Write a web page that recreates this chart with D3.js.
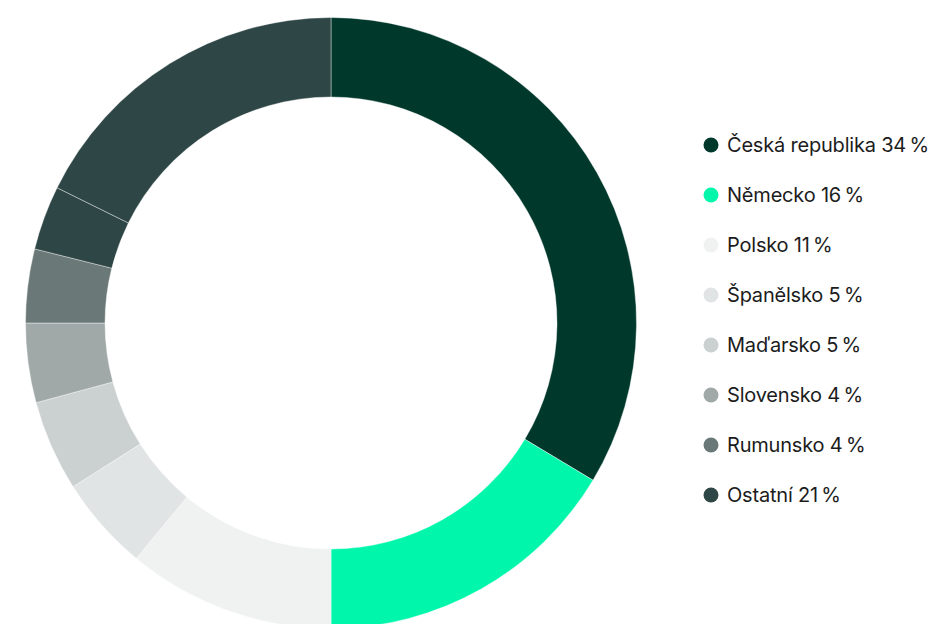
<!DOCTYPE html>
<html>
<head>
<meta charset="utf-8">
<script src="https://cdn.jsdelivr.net/npm/d3@7"></script>
<style>
  body { margin: 0; background: #fff; }
  svg { display: block; }
  .legend text { font-family: Inter, "Noto Sans", sans-serif; font-size: 20px; fill: #1c1c1c; }
</style>
</head>
<body>
<svg id="chart" width="935" height="624"></svg>
<script>
const countries = ["Česká republika", "Německo", "Polsko", "Španělsko", "Maďarsko", "Slovensko", "Rumunsko", "Ostatní"];
const shares = [33.6, 16.4, 11.0, 5.0, 4.8, 4.2, 3.9, 21.1];
const colors = ["#00382b", "#00f7ab", "#f0f2f2", "#e1e4e4", "#cbd0d0", "#a0a8a8", "#6a7877", "#2e4645"];
// "Ostatní" is drawn as two pieces in the original, same colour
const otherParts = [3.4, 17.7];

const svg = d3.select("#chart");
const cx = 331, cy = 323;
const outerR = 305.5, innerR = 226;

// slices: every country, with Ostatní split into its parts
const slices = [];
countries.forEach((c, i) => {
    if (c === "Ostatní") {
        otherParts.forEach(v => slices.push({name: c, value: v, color: colors[i]}));
    } else {
        slices.push({name: c, value: shares[i], color: colors[i]});
    }
});

const pie = d3.pie()
    .value(d => d.value)
    .sort(null);

const arc = d3.arc()
    .innerRadius(innerR)
    .outerRadius(outerR);

const g = svg.append("g")
    .attr("transform", `translate(${cx},${cy})`);

g.selectAll("path")
    .data(pie(slices))
    .enter()
    .append("path")
    .attr("d", arc)
    .attr("fill", d => d.data.color)
    .attr("stroke", "#fff")
    .attr("stroke-width", 0.5)
    .attr("stroke-opacity", 0.8);

// Legend
const y = d3.scalePoint()
    .domain(countries)
    .range([145, 495]);

const legend = svg.append("g")
    .attr("class", "legend");

const rows = legend.selectAll("g")
    .data(countries)
    .enter()
    .append("g")
    .attr("transform", d => `translate(711,${y(d)})`);

rows.append("circle")
    .attr("r", 7.5)
    .attr("fill", (d, i) => colors[i]);

rows.append("text")
    .attr("x", 16)
    .attr("dy", "0.36em")
    .attr("letter-spacing", "-0.2")
    .text((d, i) => `${d} ${Math.round(shares[i])}\u2009%`);
</script>
</body>
</html>
